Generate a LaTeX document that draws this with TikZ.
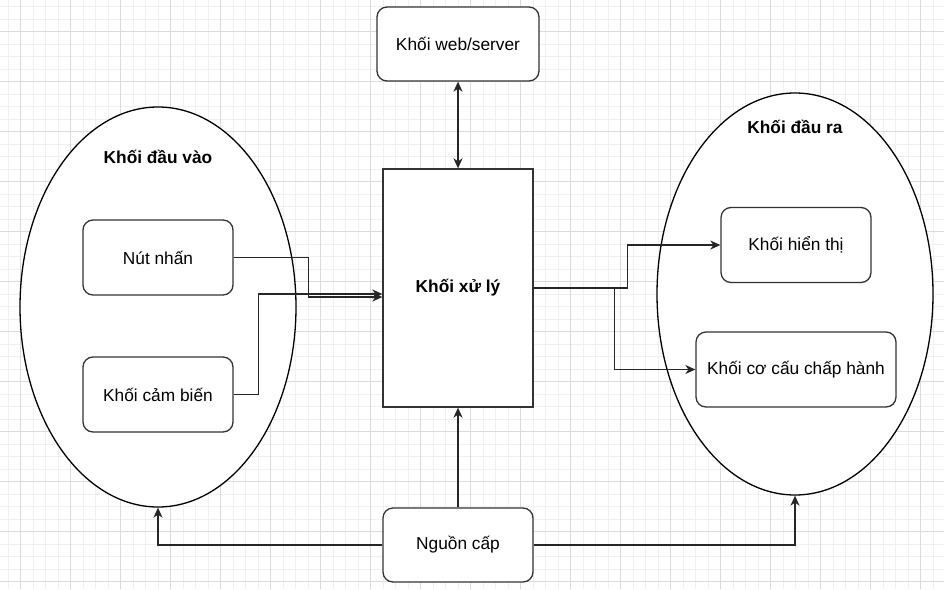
\documentclass[tikz,border=0pt]{standalone}
\usepackage{fontspec}
\setmainfont{Liberation Sans}
\usetikzlibrary{arrows.meta,shapes.geometric}
\tikzset{%
  >={Stealth[length=10pt,width=9pt,inset=3pt]}, % draw.io like tips
  every node/.style={font=\fontsize{17.3}{20}\selectfont},
  block/.style={draw=black!80,line width=1.3pt,fill=white,
    rounded corners=10pt,minimum width=150pt,minimum height=75pt,inner sep=0pt},
  core/.style={block,rounded corners=0pt},
  group/.style={ellipse,draw,line width=1.3pt,fill=white,
    minimum width=276pt,minimum height=400pt,inner sep=0pt},
  title/.style={font=\fontsize{17.3}{20}\selectfont\bfseries},
  link/.style={->,line width=1.3pt,draw=black!85},
  gridminor/.style={draw=black!6,line width=0.8pt},
  gridmajor/.style={draw=black!14,line width=0.8pt}%
}

\begin{document}
\begin{tikzpicture}[x=1pt,y=-1pt] % 1pt = 1px of the drawing

\useasboundingbox[fill=white] (0,0) rectangle (944,589);

% background grid
\foreach \x in {8.2,20.7,...,944} \draw[gridminor] (\x,0) -- (\x,589);
\foreach \y in {6.7,19.2,...,589} \draw[gridminor] (0,\y) -- (944,\y);
\foreach \x in {20.7,70.7,...,944} \draw[gridmajor] (\x,0) -- (\x,589);
\foreach \y in {31.7,81.7,...,589} \draw[gridmajor] (0,\y) -- (944,\y);

% input / output groups
\node[group] (vao) at (158,307) {};
\node[group,minimum height=402pt] (ra) at (795,294) {};
\node[title] (vaolabel) at (158,157) {Khối đầu vào};
\node[title] (ralabel) at (795,127) {Khối đầu ra};

% blocks
\node[block,minimum width=162pt,minimum height=74pt] (web) at (458,44) {Khối web/server};
\node[core,minimum height=238pt] (xuly) at (458,288) {\bfseries Khối xử lý};
\node[block] (nut) at (158,257.5) {Nút nhấn};
\node[block] (cambien) at (158,394.5) {Khối cảm biến};
\node[block] (hienthi) at (796,245) {Khối hiển thị};
\node[block,minimum width=200pt] (chaphanh) at (796,369.5) {Khối cơ cấu chấp hành};
\node[block,minimum height=74pt] (nguon) at (458,545) {Nguồn cấp};

% connectors
\draw[link,<->] (web.south) -- (xuly.north);
\draw[link] (nut.east) -- ++(75,0) |- ([yshift=-9pt]xuly.west);
\draw[link] (cambien.east) -- ++(25,0) |- ([yshift=-6pt]xuly.west);
\draw[link] (xuly.east) -- ++(94,0) |- (hienthi.west);
\draw[link] (xuly.east) -- ++(81,0) |- (chaphanh.west);
\draw[link] (nguon.north) -- (xuly.south);
\draw[link] (nguon.west) -| (vao.south);
\draw[link] (nguon.east) -| (ra.south);

\end{tikzpicture}
\end{document}
